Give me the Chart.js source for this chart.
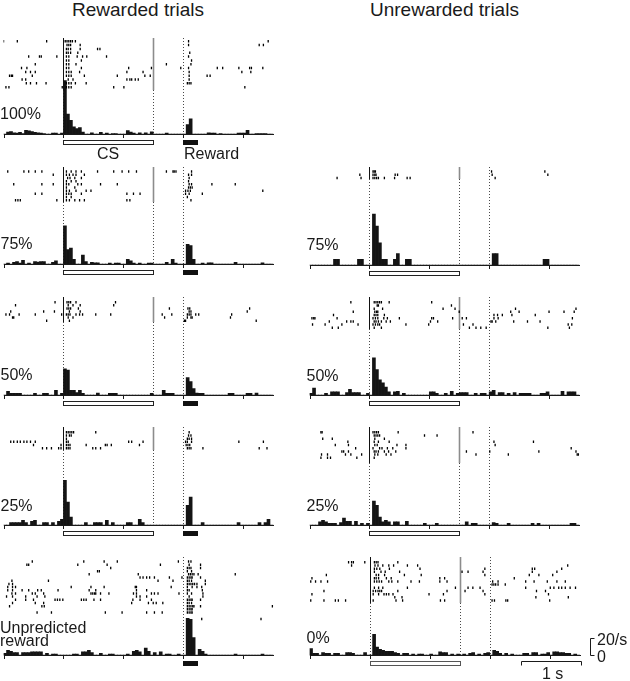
<!DOCTYPE html>
<html><head><meta charset="utf-8">
<script src="https://cdn.jsdelivr.net/npm/chart.js@4.4.0/dist/chart.umd.min.js"></script>
<style>
html,body{margin:0;padding:0;background:#fff;}
body{position:relative;width:630px;height:681px;overflow:hidden;font-family:"Liberation Sans",Arial,Helvetica,sans-serif;color:#1a1a1a;}
canvas{position:absolute;}
.lbl{position:absolute;font-size:16px;line-height:16px;white-space:nowrap;}
.ttl{position:absolute;font-size:19px;line-height:19px;white-space:nowrap;}
</style></head>
<body>
<script>
// ---------- DATA ----------
// histogram bins (s, relative to CS onset); 50 ms bins from -1 s
const BIN_START = -1.0;
const BIN_WIDTH = 0.05;
const tickTimes = [-1, 0, 1, 2, 3];
const csOn = 0, csOff = 1.5, rewardOn = 2, rewardOff = 2.25;

// firing rates (spikes/s) per bin
const hist100 = [
 0, 2.2, 3.0, 1.5, 1.1, 1.9, 0.7, 4.4, 3.7, 3.0,
 1.9, 1.5, 1.1, 0.7, 0, 0, 1.1, 1.1, 0, 1.1,
 62.2, 23.3, 15.9, 8.5, 6.3, 7.4, 2.2, 0, 0, 1.5,
 0, 0, 1.9, 0, 1.1, 0, 0.7, 0.7, 0, 0,
 0, 4.1, 2.2, 1.1, 0, 1.5, 0, 1.5, 0, 2.6,
 0, 0, 0, 0, 1.1, 0, 0, 0, 0, 0,
 0, 11.1, 17.8, 0, 0, 0, 0, 0, 1.5, 1.1,
 1.1, 0, 0.7, 0, 0, 0, 0, 0, 1.1, 1.1,
 1.1, 4.4, 0, 0, 0.7, 0.7, 0.7, 0.7, 0, 0
];
const hist75 = [
 0, 1.1, 0, 1.9, 3.0, 1.1, 4.4, 0, 1.1, 0,
 3.0, 2.2, 3.0, 3.0, 0, 0, 1.9, 3.7, 0, 0,
 44.4, 16.7, 18.5, 5.6, 0, 0, 10.4, 3.0, 0, 1.9,
 1.5, 1.5, 0, 0, 0, 1.1, 0, 1.1, 1.1, 0,
 0, 5.6, 3.7, 1.1, 0, 1.1, 0, 0, 1.1, 1.1,
 0, 0, 0, 0, 1.9, 0, 5.6, 1.1, 0, 0,
 0, 23.0, 21.5, 5.6, 0, 0, 1.1, 0, 1.5, 1.5,
 0, 0, 0, 0, 0, 0, 0, 1.9, 0, 0,
 0, 0, 0, 0, 0, 0, 1.5, 0, 0, 0
];
const hist75u = [
 0, 0, 0, 0, 0, 0, 0, 0, 6.7, 6.7,
 0, 0, 0, 0, 0, 0, 6.7, 6.7, 0, 0,
 0, 59.3, 45.2, 25.9, 6.7, 6.7, 0, 0, 6.7, 13.3,
 0, 0, 6.7, 6.7, 0, 0, 0, 0, 0, 0,
 0, 0, 0, 0, 0, 0, 0, 0, 0, 0,
 0, 0, 0, 0, 0, 0, 0, 0, 0, 0,
 0, 13.3, 13.3, 0, 0, 0, 0, 0, 0, 0,
 0, 0, 0, 0, 0, 0, 0, 0, 6.7, 6.7,
 0, 0, 0, 0, 0, 0, 0, 0, 0, 0
];
const hist50 = [
 0, 4.4, 1.9, 1.9, 1.9, 1.9, 0, 0, 0, 0,
 1.9, 0, 0, 1.9, 1.9, 0, 0, 5.6, 0, 1.9,
 30.4, 28.9, 5.6, 5.6, 3.0, 5.6, 1.9, 0, 0, 0,
 0, 2.2, 0, 0, 0, 1.9, 1.9, 1.9, 0, 0,
 0, 0, 0, 0, 0, 0, 0, 0, 0, 1.9,
 0, 0, 0, 5.6, 1.9, 1.9, 1.9, 0, 0, 0,
 0, 20.4, 15.6, 7.4, 2.2, 1.9, 1.9, 0, 0, 0,
 0, 0, 0, 0, 0, 1.9, 1.9, 0, 0, 0,
 0, 1.9, 1.9, 0, 2.2, 0, 0, 0, 0, 0
];
const hist50u = [
 1.9, 8.1, 0, 0, 0, 1.9, 0, 3.7, 3.7, 3.7,
 0, 0, 3.0, 6.7, 3.0, 3.0, 3.0, 0, 0, 1.9,
 0, 43.3, 29.6, 17.8, 14.1, 9.3, 3.7, 0, 3.7, 4.4,
 0, 1.9, 0, 0, 0, 0, 0, 0, 0, 0,
 3.7, 3.7, 1.9, 0, 0, 1.9, 0, 4.4, 0, 1.9,
 3.0, 3.0, 3.0, 0, 0, 1.9, 0, 1.9, 1.9, 0,
 3.7, 5.6, 0, 3.0, 3.0, 0, 1.9, 0, 3.0, 0,
 1.9, 1.9, 1.9, 1.9, 0, 0, 0, 1.9, 1.9, 3.7,
 0, 0, 0, 0, 4.4, 0, 3.7, 3.7, 3.7, 0
];
const hist25 = [
 0, 0, 3.0, 3.0, 3.0, 3.0, 5.6, 3.0, 0, 4.4,
 5.6, 0, 0, 3.0, 3.0, 0, 3.0, 0, 4.4, 6.7,
 51.9, 26.7, 9.3, 0, 0, 0, 0, 3.0, 0, 0,
 3.0, 3.0, 3.0, 0, 5.6, 0, 3.0, 0, 0, 0,
 0, 3.0, 3.0, 0, 0, 6.7, 3.0, 0, 0, 0,
 0, 0, 0, 0, 0, 0, 0, 0, 0, 0,
 0, 23.0, 32.6, 0, 0, 0, 3.0, 0, 0, 0,
 0, 0, 0, 0, 0, 0, 0, 0, 3.0, 0,
 0, 0, 0, 0, 0, 3.0, 0, 3.0, 6.7, 0
];
const hist25u = [
 0, 0, 0, 3.7, 5.6, 3.7, 1.9, 1.9, 1.9, 0,
 3.0, 8.1, 4.4, 4.4, 0, 4.4, 0, 1.9, 0, 1.9,
 0, 27.8, 23.0, 9.3, 3.7, 5.6, 3.7, 0, 3.7, 3.7,
 0, 0, 4.4, 0, 0, 0, 0, 0, 1.9, 0,
 0, 0, 1.9, 0, 0, 0, 0, 0, 0, 0,
 0, 0, 3.7, 0, 1.9, 1.9, 0, 0, 0, 0,
 0, 3.0, 1.9, 0, 0, 0, 1.9, 0, 0, 0,
 0, 0, 0, 0, 1.9, 0, 1.9, 0, 0, 0,
 0, 0, 0, 0, 0, 0, 0, 1.9, 1.9, 0
];
const histUnpred = [
 1.9, 5.6, 4.4, 3.0, 3.0, 0, 3.0, 3.0, 3.0, 3.7,
 3.7, 3.7, 3.7, 0, 1.9, 0, 1.1, 1.1, 0, 0,
 0, 0, 0, 1.1, 1.1, 0, 3.7, 3.7, 5.6, 3.0,
 0, 0, 1.9, 0, 0, 1.1, 1.1, 0, 0, 0,
 0, 1.1, 0, 4.4, 5.6, 3.7, 0, 8.1, 4.4, 0,
 3.0, 0, 3.7, 0, 1.1, 1.1, 0, 0, 1.1, 0,
 0, 42.6, 41.5, 20.4, 0, 6.7, 4.4, 1.1, 0, 0,
 0, 0, 0, 0, 0, 0, 0, 1.1, 0, 0,
 0, 0, 0, 0, 0, 0, 1.1, 0, 0, 0
];
const hist0 = [
 7.4, 1.9, 1.9, 0, 3.0, 1.9, 1.9, 0, 1.9, 1.9,
 0, 0, 3.0, 3.0, 1.9, 0, 0, 0, 3.0, 0,
 0, 24.1, 9.3, 6.7, 5.6, 4.4, 4.4, 4.4, 3.0, 1.9,
 0, 1.9, 1.9, 0, 1.1, 0, 1.1, 1.1, 0, 0,
 1.1, 0, 0, 3.7, 3.0, 3.0, 0, 1.1, 0, 1.1,
 0, 1.1, 0, 1.9, 3.0, 0, 1.1, 0, 1.9, 3.0,
 0, 5.6, 4.4, 1.9, 0, 1.9, 0, 1.1, 0, 0,
 0, 1.9, 1.9, 0, 3.0, 3.0, 0, 1.1, 1.1, 3.0,
 0, 3.7, 3.7, 3.0, 3.0, 1.9, 1.9, 0, 1.1, 0
];

// raster spike times (s), one array per trial (top to bottom)
const raster100 = [
 [-1.0, -0.77, -0.28, 0.03, 0.06, 0.09, 0.12, 0.15, 0.20, 2.09, 3.42],
 [0.06, 0.09, 0.12, 0.28, 2.09, 3.27, 3.34],
 [0.05, 0.08, 0.12, 0.28, 0.57, 0.61],
 [0.05, 0.08, 0.12, 0.24, 2.11],
 [-0.58, -0.40, -0.37, -0.11, 0.05, 0.09, 0.23, 0.32, 0.39, 0.72, 2.09],
 [0.05, 0.09, 0.30, 2.14],
 [-0.47, 0.05, 0.09, 0.21, 1.72, 2.13],
 [-0.70, -0.61, 0.05, 0.09, 0.30, 1.09, 1.47, 1.96, 2.09, 2.57, 2.66, 2.93, 3.11, 3.14, 3.33],
 [-0.63, -0.55, -0.47, 0.05, 0.09, 0.13, 0.27, 1.06, 1.33, 2.10, 2.98, 3.13],
 [-0.90, -0.87, -0.85, -0.52, 0.05, 0.09, 0.13, 0.35, 0.90, 1.36, 1.45, 2.10, 2.40, 2.45],
 [-0.69, -0.63, 0.08, 0.16, 1.06, 1.11, 1.14, 1.20, 1.25, 2.10],
 [-0.62, -0.55, -0.45, -0.29, 0.05, 0.09, 0.13, 0.20, 0.38, 2.07, 2.10, 2.13],
 [-0.96, -0.91, -0.02, 0.05, 0.09, 0.13, 0.84, 1.01, 3.03]
];
const raster75 = [
 [-0.93, -0.66, -0.58, -0.47, -0.36, 0.05, 0.13, 0.21, 0.30, 0.57, 0.84, 0.98, 1.09, 1.22, 1.72, 1.83, 1.85, 1.88, 2.14],
 [-0.17, 0.05, 0.10, 0.16, 0.21, 0.35, 2.09, 2.14],
 [0.07, 0.11, 0.19, 0.30, 2.10],
 [0.05, 0.13, 0.21, 2.09],
 [-0.83, -0.36, -0.17, 0.05, 0.09, 0.24, 0.30, 0.62, 0.90, 2.10, 2.14, 2.48, 2.87],
 [0.05, 0.19, 2.09, 2.12, 2.15],
 [0.05, 0.10, 0.21, 0.38, 0.46, 2.04, 2.08, 2.12, 3.33],
 [-0.47, -0.36, 0.05, 0.09, 0.13, 0.30, 1.06, 1.17, 1.28, 2.04, 2.10, 2.32],
 [0.05, 0.13, 2.07],
 [-0.80, -0.76, -0.72, -0.11, 0.05, 0.10, 0.19, 0.27, 0.35, 1.06, 1.11, 2.13]
];
const raster75u = [
 [0.06, 0.08, 0.10, 2.04, 2.93],
 [-0.16, 0.06, 0.09, 0.11, 0.43, 0.47, 2.05, 2.98],
 [-0.54, -0.14, 0.06, 0.09, 0.12, 0.15, 0.25, 0.42, 0.63, 0.68, 2.10]
];
const raster50 = [
 [-0.14, 0.06, 0.09, 0.12, 0.21, 0.87],
 [-0.80, 0.08, 0.16, 0.28, 0.84],
 [0.06, 0.09, 0.12, 0.25, 1.77, 2.08, 2.11, 3.11],
 [-0.88, -0.33, -0.15, 0.10, 0.28, 2.10, 2.13, 3.07],
 [-0.96, -0.90, -0.74, -0.47, -0.03, 0.05, 0.08, 0.11, 0.21, 0.27, 0.32, 0.54, 0.79, 1.65, 1.81, 2.07, 2.10, 2.13, 2.21, 2.26, 2.81],
 [-0.85, -0.83, 0.08, 0.16, 1.69, 2.07, 2.13, 2.15, 2.79],
 [-0.28, 0.10, 2.02, 2.04, 3.22]
];
const raster50u = [
 [-0.31, 0.08, 0.11, 0.14, 0.17, 0.20, 0.33, 1.04],
 [0.13, 0.15, 1.37],
 [0.08, 0.22, 1.23, 1.43, 2.44, 3.45],
 [-0.27, 0.09, 0.12, 0.14, 1.50, 2.36, 2.50, 3.00, 3.25, 3.42],
 [-0.60, 0.08, 0.11, 0.14, 0.25, 2.08, 2.14, 2.22, 2.38, 2.77],
 [-0.96, -0.93, -0.91, -0.54, 0.06, 0.10, 0.14, 0.24, 0.30, 0.50, 1.04, 1.07, 1.39, 1.55, 1.62, 2.08, 2.15, 3.39],
 [-0.67, -0.38, -0.31, -0.27, 0.08, 0.11, 0.15, 0.20, 0.28, 0.35, 1.02, 1.14, 2.03, 2.05, 2.11, 2.41, 2.64, 2.85],
 [-0.95, -0.74, -0.46, -0.19, 0.06, 0.10, 0.14, 0.17, 0.61, 0.99, 1.57, 1.73, 3.32, 3.38],
 [-0.62, -0.52, 0.08, 0.20, 1.67, 1.78, 1.86, 1.95, 2.98, 3.34]
];
const raster25 = [
 [0.05, 0.08, 0.11, 0.14, 0.17, 0.54, 2.10],
 [0.05, 0.10, 0.13, 2.09, 2.13],
 [0.05, 2.07, 2.10, 2.14],
 [-0.88, -0.83, -0.77, -0.72, -0.66, -0.61, -0.55, -0.47, 0.05, 0.08, 1.09, 1.14, 1.33, 2.04, 2.07, 2.14, 2.93, 3.34],
 [-0.50, -0.04, 0.05, 0.08, 0.11, 0.38, 0.70, 0.73, 0.80, 1.27, 2.05, 2.08, 2.11],
 [-0.35, -0.28, -0.20, -0.08, -0.04, 0.05, 0.08, 0.11, 0.49, 0.54, 0.62, 2.07, 2.10, 2.13, 2.33, 3.27, 3.40]
];
const raster25u = [
 [-0.81, -0.79, 0.06, 0.09, 0.12, 0.15, 0.48, 1.73],
 [0.08, 0.11, 0.14, 0.17, 0.92, 1.13],
 [-0.78, -0.62, 0.09, 0.25],
 [-0.36, 0.08, 0.15, 0.33, 2.08, 2.74],
 [-0.57, -0.35, 0.09, 0.13, 0.46, 0.61, 2.10],
 [-0.23, 0.06, 0.17, 0.21, 0.30, 0.39, 0.61, 3.37],
 [-0.46, -0.43, -0.35, 0.08, 0.11, 0.15, 0.25, 0.32, 0.44, 1.62, 2.01, 2.83, 3.45],
 [-0.80, -0.70, -0.40, -0.31, -0.13, 0.09, 0.14, 0.28, 0.36, 1.78, 2.32, 3.47, 3.49],
 [-0.81, -0.70, -0.65, -0.21, 0.08]
];
const rasterUnpred = [
 [-0.52, 0.34, 0.68, 0.90, 1.92, 2.09, 2.13],
 [-0.61, -0.58, 0.24, 0.73, 1.62, 2.10, 2.29],
 [0.79, 2.07, 2.10, 2.13, 2.29],
 [0.57, 0.60, 2.07, 2.14],
 [0.43, 1.25, 2.09, 2.12, 2.15, 2.18, 2.25, 2.87],
 [1.28, 1.33, 1.39, 1.44, 1.52, 1.77, 1.98, 2.07, 2.10, 2.13, 2.15, 2.29],
 [-0.86, -0.25, 1.58, 1.83, 2.07, 2.10, 2.14, 2.37],
 [-0.91, -0.85, 2.07, 2.10, 2.13, 2.16, 2.19, 2.23, 2.37],
 [-0.93, -0.85, -0.80, 0.13, 0.46, 0.68, 1.20, 1.22, 1.80, 2.07, 2.15, 2.23, 2.31],
 [-0.93, -0.85, -0.69, -0.58, -0.43, -0.37, -0.09, 0.43, 0.54, 1.22, 1.39, 2.07, 2.10, 2.32],
 [-0.86, -0.80, -0.52, -0.47, -0.33, 0.46, 0.49, 0.52, 0.54, 0.62, 0.76, 1.17, 1.22, 1.47, 1.52, 1.58, 1.93, 2.07, 2.14, 2.33],
 [-0.95, -0.85, -0.63, -0.44, -0.31, 1.22, 1.28, 1.39, 2.10, 2.33],
 [-0.80, -0.63, -0.50, -0.14, -0.10, -0.06, -0.01, 0.30, 0.34, 0.38, 0.51, 0.62, 1.16, 1.28, 1.47, 2.07, 2.10, 2.13, 2.15, 2.29],
 [-0.85, -0.47, -0.33, 1.14, 1.42, 1.50, 1.55, 1.66, 2.07, 2.10, 2.14],
 [-0.90, -0.36, -0.32, 2.07, 2.10, 2.13, 2.16, 2.18, 2.29, 3.49],
 [2.07, 2.10, 2.13, 2.15],
 [-0.44, -0.20, 0.70, 0.98, 1.39, 1.52, 1.65, 2.07, 2.10, 2.13, 2.15],
 [],
 [2.31, 3.30]
];
const raster0 = [
 [-0.35, -0.30, -0.27, -0.08, 0.08, 0.11, 0.14, 0.47],
 [-0.30, 0.09, 0.14, 0.22, 0.32, 0.40, 0.63, 0.80, 3.30],
 [0.08, 0.12, 0.17, 0.33, 0.84, 1.92, 2.71, 2.75, 3.20],
 [0.08, 0.19, 0.26, 0.50, 1.54, 1.64, 1.89, 2.71, 3.12],
 [-0.72, 0.11, 0.15, 0.25, 0.58, 0.86, 1.92, 2.66, 2.82, 3.05],
 [-0.96, 0.08, 0.11, 0.15, 0.28, 0.36, 1.17, 1.25, 2.41],
 [-0.98, -0.90, -0.81, -0.70, 0.08, 0.12, 0.16, 0.20, 0.32, 0.37, 0.47, 0.69, 0.83, 1.17, 1.29, 2.05, 2.14, 2.60, 2.74, 2.96, 3.12, 3.26],
 [2.04, 2.07, 2.10, 2.14, 2.26],
 [0.08, 0.15, 0.22, 0.63, 1.43, 1.64, 1.72, 1.84, 2.60, 3.01, 3.07, 3.15, 3.20, 3.26, 3.34, 3.43],
 [-0.76, 0.06, 0.10, 0.14, 0.17, 0.20, 0.47, 1.29, 1.59, 1.89, 2.78, 2.93],
 [-0.96, 0.06, 0.15, 0.24, 0.28, 0.32, 0.39, 0.99, 1.23, 1.92, 2.98],
 [0.42, 0.54, 2.77, 3.31],
 [-0.98, -0.76, -0.57, -0.52, -0.40, 0.06, 0.44, 0.55, 1.18, 1.25, 2.04, 2.08, 2.27, 2.30, 3.00]
];
const scaleRate = 20;   // spikes/s scale bar
const scaleTime = 1;    // s scale bar

// ---------- LAYOUT ----------
const PX_PER_S = 61, PX_PER_RATE = 0.9;
const panels = [
 {hist:hist100, raster:raster100, left:1,   rasterTop:39,    rowGap:4,    lineTop:38,  lineBottom:90,  baseline:136, cs:true,  reward:true},
 {hist:hist75,  raster:raster75,  left:1,   rasterTop:169.3, rowGap:3.33, lineTop:167, lineBottom:202, baseline:266, cs:true,  reward:true},
 {hist:hist75u, raster:raster75u, left:307, rasterTop:169.3, rowGap:3.33, lineTop:167, lineBottom:179, baseline:267, cs:true,  reward:false},
 {hist:hist50,  raster:raster50,  left:1,   rasterTop:300,   rowGap:3.2,  lineTop:297, lineBottom:322, baseline:397, cs:true,  reward:true},
 {hist:hist50u, raster:raster50u, left:307, rasterTop:300,   rowGap:3.33, lineTop:297, lineBottom:329, baseline:397, cs:true,  reward:false},
 {hist:hist25,  raster:raster25,  left:1,   rasterTop:430,   rowGap:3.33, lineTop:427, lineBottom:450, baseline:527, cs:true,  reward:true},
 {hist:hist25u, raster:raster25u, left:307, rasterTop:430,   rowGap:3.33, lineTop:427, lineBottom:463, baseline:527, cs:true,  reward:false},
 {hist:histUnpred, raster:rasterUnpred, left:1, rasterTop:559.3, rowGap:3.33, lineTop:557, lineBottom:557, baseline:657, cs:false, reward:true},
 {hist:hist0,   raster:raster0,   left:307, rasterTop:560,   rowGap:3.33, lineTop:557, lineBottom:603, baseline:657, cs:true,  reward:false, scaleBars:true, width:323}
];

function decorPlugin(p, top) {
  return {
    id: 'decor',
    beforeDatasetsDraw(chart) {
      const ctx = chart.ctx, xs = chart.scales.x, ys = chart.scales.y;
      const X = t => Math.round(xs.getPixelForValue(t)) + 0.5;
      const b = Math.round(ys.getPixelForValue(0));
      const lt = p.lineTop - top, lb = p.lineBottom - top;
      ctx.save();
      ctx.lineWidth = 1;
      ctx.strokeStyle = '#4a4a4a';
      ctx.setLineDash([1, 2]);
      ctx.beginPath();
      if (p.cs) {
        ctx.moveTo(X(csOn), lb); ctx.lineTo(X(csOn), b);
        ctx.moveTo(X(csOff), lb); ctx.lineTo(X(csOff), b);
      }
      ctx.moveTo(X(rewardOn), lt); ctx.lineTo(X(rewardOn), b);
      ctx.stroke();
      ctx.setLineDash([]);
      if (p.cs) {
        ctx.strokeStyle = '#111';
        ctx.beginPath(); ctx.moveTo(X(csOn), lt); ctx.lineTo(X(csOn), lb); ctx.stroke();
        ctx.strokeStyle = '#8c8c8c'; ctx.lineWidth = 1.6;
        ctx.beginPath(); ctx.moveTo(X(csOff), lt); ctx.lineTo(X(csOff), lb); ctx.stroke();
      }
      ctx.restore();
    },
    afterDatasetsDraw(chart) {
      const ctx = chart.ctx, xs = chart.scales.x, ys = chart.scales.y;
      const P = t => xs.getPixelForValue(t);
      const X = t => Math.round(P(t)) + 0.5;
      const b = Math.round(ys.getPixelForValue(0));
      ctx.save();
      ctx.lineWidth = 1;
      ctx.strokeStyle = '#1a1a1a';
      ctx.beginPath();
      ctx.moveTo(Math.round(P(-1)), b + 0.5); ctx.lineTo(Math.round(P(3.52)), b + 0.5);
      tickTimes.forEach(t => { ctx.moveTo(X(t), b + 0.5); ctx.lineTo(X(t), b + 4); });
      ctx.stroke();
      if (p.cs) {
        ctx.strokeStyle = p.scaleBars ? '#555' : '#222';
        ctx.strokeRect(X(csOn), b + 6.5, X(csOff) - X(csOn), 4);
      }
      if (p.reward) {
        ctx.fillStyle = '#111';
        const x0 = Math.round(P(rewardOn)), x1 = Math.round(P(rewardOff));
        ctx.fillRect(x0, b + 6, x1 - x0, 5);
      }
      if (p.scaleBars) {
        ctx.strokeStyle = '#1a1a1a';
        const t0 = 3.52 - scaleTime;
        ctx.beginPath();
        ctx.moveTo(X(t0), b + 10.5); ctx.lineTo(X(t0), b + 6.5);
        ctx.lineTo(X(3.52), b + 6.5); ctx.lineTo(X(3.52), b + 10.5);
        ctx.stroke();
        const bx = 590 - p.left + 0.5;
        const y20 = Math.round(ys.getPixelForValue(scaleRate)) + 0.5;
        ctx.beginPath();
        ctx.moveTo(bx + 4, y20); ctx.lineTo(bx, y20); ctx.lineTo(bx, b + 0.5); ctx.lineTo(bx + 4, b + 0.5);
        ctx.stroke();
      }
      ctx.restore();
    }
  };
}

function makePanel(p) {
  const top = Math.floor(p.rasterTop - 6), bottom = p.baseline + 14;
  const H = bottom - top, W = p.width || 276;
  const cv = document.createElement('canvas');
  cv.width = W; cv.height = H;
  cv.style.left = p.left + 'px'; cv.style.top = top + 'px';
  cv.style.width = W + 'px'; cv.style.height = H + 'px';
  document.body.appendChild(cv);
  const b = p.baseline - top;
  const yMin = -(H - b) / PX_PER_RATE, yMax = b / PX_PER_RATE;
  const r0 = p.rasterTop - top;
  const rMin = -r0 / p.rowGap, rMax = rMin + H / p.rowGap;
  const bars = p.hist.map((v, i) => ({x: BIN_START + BIN_WIDTH * (i + 0.5), y: v}));
  const spikes = [];
  p.raster.forEach((trial, k) => trial.forEach(t => spikes.push({x: t, y: k})));
  new Chart(cv, {
    type: 'bar',
    data: {datasets: [
      {type: 'bar', data: bars, yAxisID: 'y', backgroundColor: '#141414', borderWidth: 0,
       barPercentage: 1, categoryPercentage: 1, grouped: false, order: 2},
      {type: 'scatter', data: spikes, yAxisID: 'yr', showLine: false,
       pointStyle: 'line', pointRotation: 90, pointRadius: 1.25, pointHoverRadius: 0,
       pointBorderColor: '#000', pointBorderWidth: 1.3, pointBackgroundColor: '#000', order: 1}
    ]},
    options: {
      responsive: false, maintainAspectRatio: false, animation: false, events: [],
      devicePixelRatio: 1,
      layout: {padding: 0},
      plugins: {legend: {display: false}, tooltip: {enabled: false}, title: {display: false}},
      scales: {
        x: {type: 'linear', min: -1, max: -1 + W / PX_PER_S, display: false, offset: false},
        y: {type: 'linear', min: yMin, max: yMax, display: false},
        yr: {type: 'linear', min: rMin, max: rMax, reverse: true, display: false}
      }
    },
    plugins: [decorPlugin(p, top)]
  });
}
panels.forEach(makePanel);

// ---------- TEXT ----------
const texts = [
 {t:'Rewarded trials', cx:138, cy:9.3, cls:'ttl'},
 {t:'Unrewarded trials', cx:444.5, cy:9.3, cls:'ttl'},
 {t:'CS', x:97, cy:154.2},
 {t:'Reward', x:184, cy:154.2},
 {t:'100%', x:0, cy:113.7},
 {t:'75%', x:0.5, cy:244.2},
 {t:'75%', x:306.5, cy:244.5},
 {t:'50%', x:0.5, cy:375},
 {t:'50%', x:306.5, cy:375.3},
 {t:'25%', x:0.5, cy:505.5},
 {t:'25%', x:306.5, cy:505.3},
 {t:'Unpredicted', x:0, cy:627.5},
 {t:'reward', x:0, cy:641},
 {t:'0%', x:306.5, cy:637.5},
 {t:'20/s', x:597, cy:640},
 {t:'0', x:597, cy:657},
 {t:'1 s', x:542, cy:674}
];
texts.forEach(o => {
  const d = document.createElement('div');
  d.className = o.cls || 'lbl';
  d.textContent = o.t;
  const off = (o.cls === 'ttl') ? 9.3 : 7.8;
  d.style.top = (o.cy - off) + 'px';
  document.body.appendChild(d);
  if (o.cx !== undefined) {
    d.style.left = (o.cx - d.offsetWidth / 2) + 'px';
  } else {
    d.style.left = o.x + 'px';
  }
});
</script>
</body></html>
